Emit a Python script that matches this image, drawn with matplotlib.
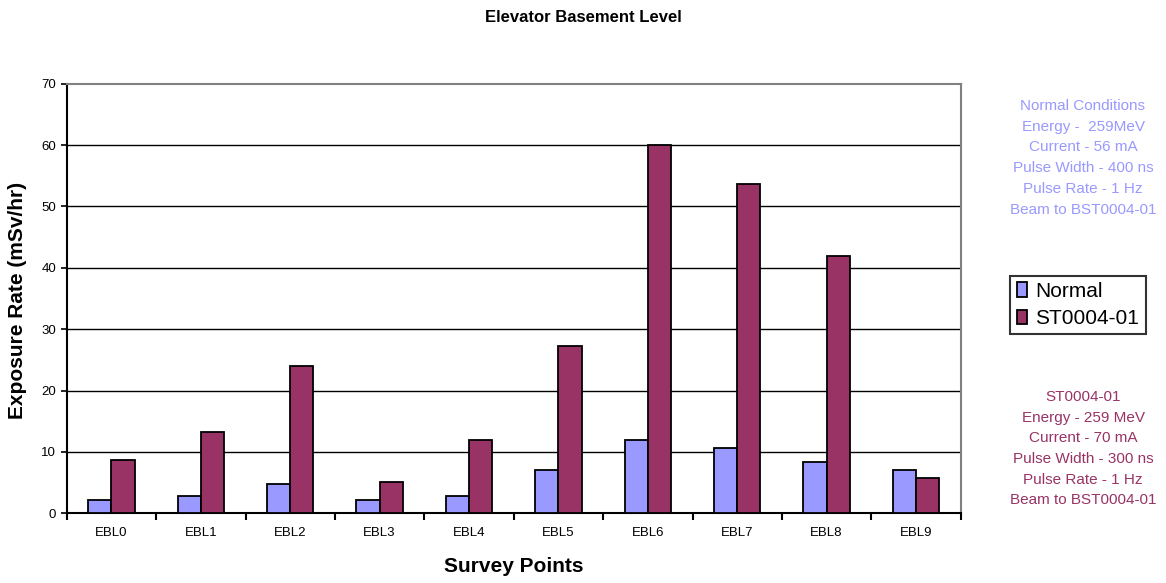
import matplotlib.pyplot as plt
import numpy as np

plt.rcParams['font.family'] = ['Liberation Sans', 'DejaVu Sans']

points = ['EBL0', 'EBL1', 'EBL2', 'EBL3', 'EBL4', 'EBL5', 'EBL6', 'EBL7', 'EBL8', 'EBL9']
normal = [2.1, 2.8, 4.75, 2.1, 2.8, 7.0, 12.0, 10.65, 8.4, 7.0]
st0004 = [8.7, 13.3, 24.0, 5.1, 12.0, 27.2, 60.0, 53.7, 41.9, 5.7]

normal_notes = ['Normal Conditions', 'Energy -  259MeV', 'Current - 56 mA',
                'Pulse Width - 400 ns', 'Pulse Rate - 1 Hz', 'Beam to BST0004-01']
st_notes = ['ST0004-01', 'Energy - 259 MeV', 'Current - 70 mA',
            'Pulse Width - 300 ns', 'Pulse Rate - 1 Hz', 'Beam to BST0004-01']

c_normal = '#9999FF'
c_st = '#993366'

fig = plt.figure(figsize=(11.66, 5.83), dpi=100)
ax = fig.add_axes([66.7 / 1166, 1 - 513.3 / 583, 894 / 1166, 429.6 / 583])

x = np.arange(len(points))
w = 0.26
ax.bar(x - w / 2, normal, w, color=c_normal, edgecolor='black', linewidth=1.3,
       label='Normal', zorder=3)
ax.bar(x + w / 2, st0004, w, color=c_st, edgecolor='black', linewidth=1.3,
       label='ST0004-01', zorder=3)

ax.set_xlim(-0.5, len(points) - 0.5)
ax.set_ylim(0, 70)
ax.set_yticks(range(0, 71, 10))
ax.tick_params(axis='y', labelsize=9.5, length=4, width=1.2, direction='out')
ax.set_xticks(x)
ax.set_xticklabels(points, fontsize=9.5)
ax.tick_params(axis='x', length=0, pad=10)
ax.set_xticks(np.arange(-0.5, len(points)), minor=True)
ax.tick_params(axis='x', which='minor', length=5, width=1.5, direction='out')

for yv in range(10, 70, 10):
    ax.axhline(yv, color='black', linewidth=1, zorder=1)

for side in ['top', 'right']:
    ax.spines[side].set_color('#808080')
    ax.spines[side].set_linewidth(1.5)
for side in ['left', 'bottom']:
    ax.spines[side].set_color('black')
    ax.spines[side].set_linewidth(1.5)

fig.text(583 / 1166, 1 - 18 / 583, 'Elevator Basement Level', ha='center', va='center',
         fontsize=12, fontweight='bold')
fig.text(18 / 1166, 1 - 300 / 583, 'Exposure Rate (mSv/hr)', ha='center', va='center',
         rotation=90, fontsize=15, fontweight='bold')
fig.text(514 / 1166, 1 - 567 / 583, 'Survey Points', ha='center', va='center',
         fontsize=15, fontweight='bold')

for i, line in enumerate(normal_notes):
    fig.text(1083 / 1166, 1 - (106 + i * 20.7) / 583, line, ha='center', va='center',
             fontsize=11, color=c_normal)
for i, line in enumerate(st_notes):
    fig.text(1083 / 1166, 1 - (397 + i * 20.7) / 583, line, ha='center', va='center',
             fontsize=11, color=c_st)

leg = fig.legend(loc='center', bbox_to_anchor=(1078 / 1166, 1 - 305 / 583),
                 fontsize=15, frameon=True, fancybox=False, handlelength=0.5,
                 handleheight=0.7, handletextpad=0.4, borderpad=0.3, labelspacing=0.4,
                 borderaxespad=0)
leg.get_frame().set_edgecolor('black')
leg.get_frame().set_linewidth(1.5)

fig.savefig('out.png', dpi=100)
